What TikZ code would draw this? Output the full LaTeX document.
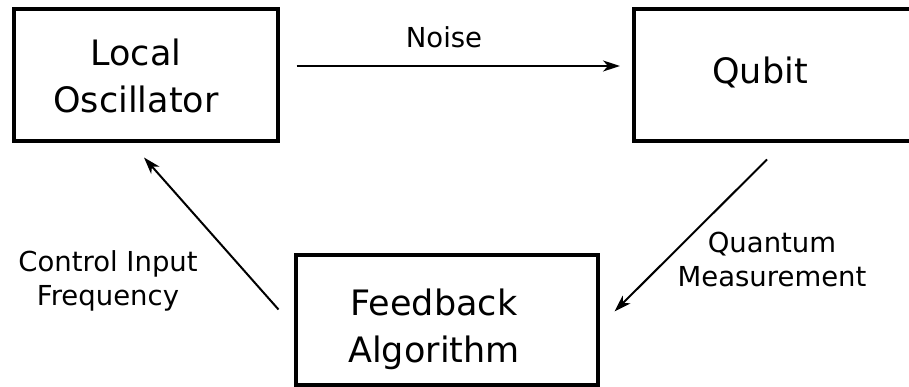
\documentclass[tikz,border=0pt]{standalone}
\usepackage{fontspec}
\setmainfont{DejaVu Sans}
\usetikzlibrary{arrows.meta}
\begin{document}
\begin{tikzpicture}[x=1pt,y=-1pt,
  box/.style={draw,line width=4pt,inner sep=0pt,outer sep=0pt},
  boxtext/.style={font=\fontsize{35}{47}\selectfont,align=center,anchor=base,inner sep=0pt},
  lbl/.style={font=\fontsize{27.5}{34}\selectfont,align=center,anchor=base,inner sep=0pt},
  conn/.style={line width=2pt,-{Stealth[length=17pt,width=11pt,inset=5pt]}}]
\clip (0,0) rectangle (909,387);
\node[box,minimum width=264pt,minimum height=132pt] (lo) at (145.5,75.5) {};
\node[box,minimum width=303pt,minimum height=132pt] (qb) at (785.5,75.5) {};
\node[box,minimum width=302pt,minimum height=130pt] (fb) at (446.5,319.5) {};
\node[boxtext] (lot) at (136,113) {Local\\Oscillator};
\node[boxtext] (qbt) at (760,84) {Qubit};
\node[boxtext] (fbt) at (434,362) {Feedback\\Algorithm};
\node[lbl] (noise) at (444,48) {Noise};
\node[lbl] (qm) at (772,286) {Quantum\\Measurement};
\node[lbl] (ci) at (108,305) {Control Input\\Frequency};
\draw[conn] ([xshift=19pt,yshift=9.5pt]lo.east) -- ([xshift=-14pt,yshift=9.5pt]qb.west);
\draw[conn] ([xshift=133pt,yshift=-18pt]qb.south west) -- ([xshift=17pt,yshift=8pt]fb.east);
\draw[conn] ([xshift=-17pt,yshift=10pt]fb.west) -- ([xshift=-1.5pt,yshift=-16pt]lo.south);
\end{tikzpicture}
\end{document}
